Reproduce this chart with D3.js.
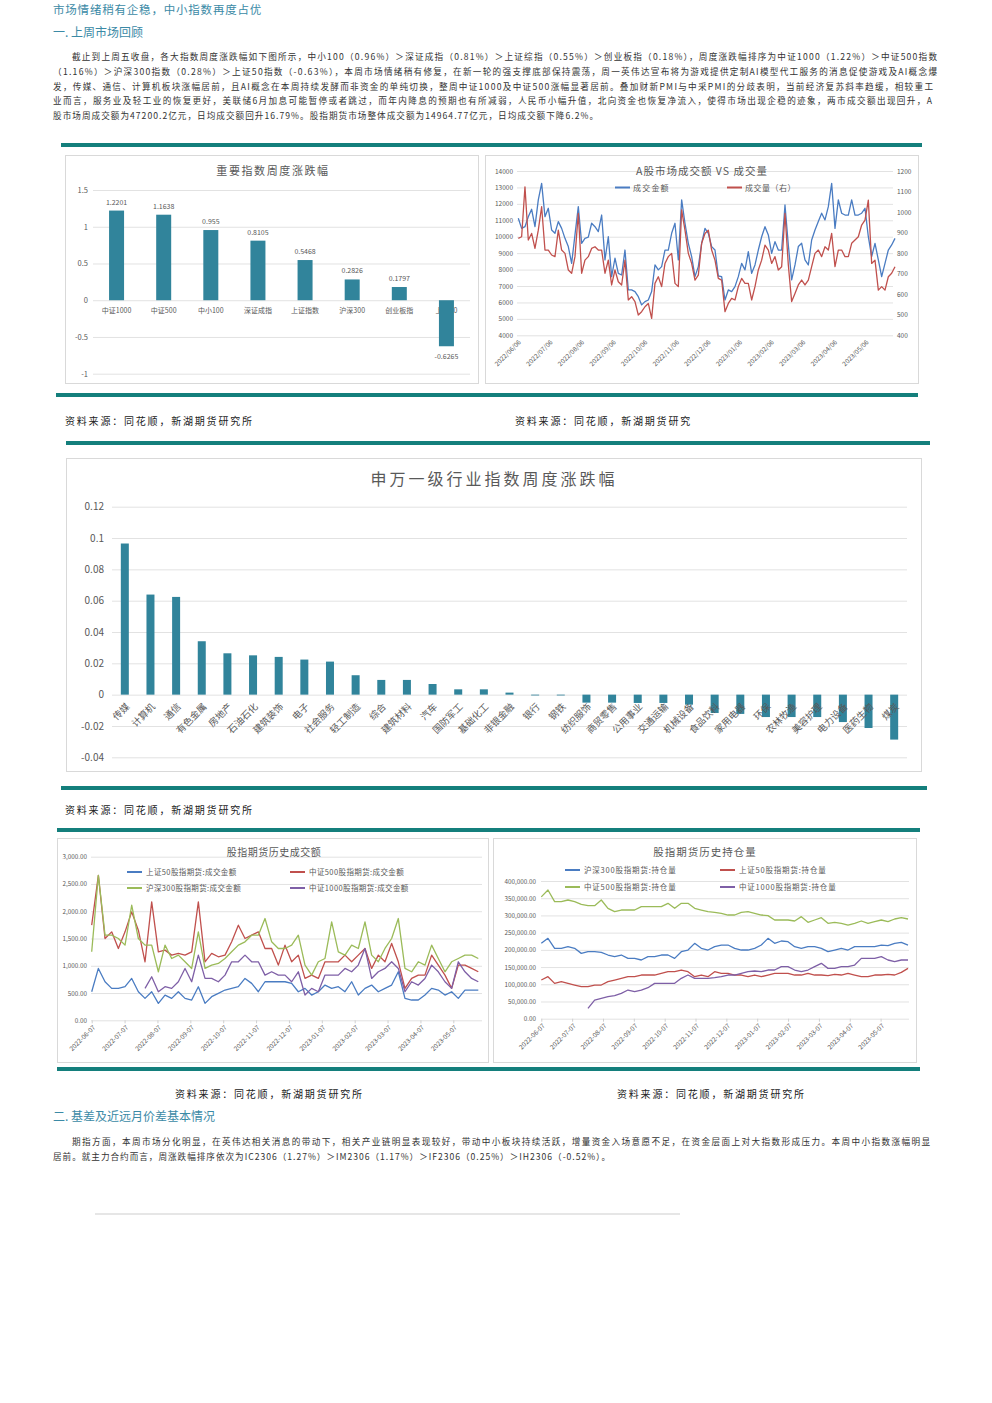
<!DOCTYPE html>
<html><head><meta charset="utf-8">
<script src="https://cdn.jsdelivr.net/npm/d3@7"></script>
<style>
body{margin:0;background:#fff}
svg{display:block}
text{font-family:"Noto Sans CJK SC","Noto Sans",sans-serif}
</style>
</head><body>
<svg id="c" width="992" height="1403"></svg>
<script>
// ---------------- DATA ----------------
const idxCats = ["中证1000","中证500","中小100","深证成指","上证指数","沪深300","创业板指","上证50"];
const idxVals = [1.2201,1.1638,0.955,0.8105,0.5468,0.2826,0.1797,-0.6265];
const idxTicks = [1.5,1,0.5,0,-0.5,-1];

const volDates = ["2022/06/06","2022/07/06","2022/08/06","2022/09/06","2022/10/06","2022/11/06","2022/12/06","2023/01/06","2023/02/06","2023/03/06","2023/04/06","2023/05/06"];
const amountTicks = [4000,5000,6000,7000,8000,9000,10000,11000,12000,13000,14000];
const volumeTicks = [400,500,600,700,800,900,1000,1100,1200];
const amountVals = [11120,10510,10610,11220,11670,10610,12240,13250,11220,11730,
10410,10210,10920,10510,9900,9400,8380,10110,11830,9600,
9900,9970,10820,10610,10310,11320,8590,10000,7570,8690,
7770,7670,9190,6760,6760,6660,6350,5850,6050,6150,
6660,8280,7980,8180,9190,9190,10210,10820,8590,12240,
10820,9600,8790,7570,8180,9600,10510,10210,9400,9190,
7610,7570,6150,6760,6660,6960,7570,8380,7980,9090,
7770,8280,9190,10000,10610,10110,8990,9700,9190,9190,
11930,9500,7370,8280,9400,9600,8590,8280,9800,10410,
10920,11430,11020,11830,13250,10510,12240,11430,11320,11320,
12240,11320,11320,11430,11730,10000,8790,9600,8590,7570,
8380,9190,9500,9900];
const volumeVals = [872,880,1123,864,896,823,912,1026,815,815,
791,783,912,815,799,718,702,783,994,702,
766,783,823,831,815,815,702,766,645,718,
661,645,766,572,588,564,499,515,539,555,
482,653,685,637,750,783,799,653,637,1010,
912,799,750,669,693,848,896,912,815,766,
677,669,515,555,580,572,637,677,653,653,
572,637,718,766,839,815,750,783,718,734,
994,742,564,604,645,669,645,669,734,799,
815,783,831,815,896,734,815,815,783,783,
848,864,880,937,961,1058,750,766,620,637,
620,685,702,734];

const swCats = ["传媒","计算机","通信","有色金属","房地产","石油石化","建筑装饰","电子","社会服务","轻工制造","综合","建筑材料","汽车","国防军工","基础化工","非银金融","银行","钢铁","纺织服饰","商贸零售","公用事业","交通运输","机械设备","食品饮料","家用电器","环保","农林牧渔","美容护理","电力设备","医药生物","煤炭"];
const swVals = [0.0965,0.0639,0.0624,0.0341,0.0264,0.0251,0.0241,0.0224,0.0211,0.0124,0.0094,0.0094,0.0068,0.0034,0.0034,0.0013,-0.0002,-0.0003,-0.0051,-0.0051,-0.0053,-0.0053,-0.0064,-0.0117,-0.0123,-0.0143,-0.0143,-0.0143,-0.0175,-0.0213,-0.0287];
const swTicks = [0.12,0.1,0.08,0.06,0.04,0.02,0,-0.02,-0.04];

const futDates = ["2022-06-07","2022-07-07","2022-08-07","2022-09-07","2022-10-07","2022-11-07","2022-12-07","2023-01-07","2023-02-07","2023-03-07","2023-04-07","2023-05-07"];
const futAmtTicks = [0,500,1000,1500,2000,2500,3000];
const sz50Amt = [524,951,707,585,585,616,768,524,402,524,
311,463,402,524,402,372,616,311,433,494,
555,585,616,768,677,524,707,707,707,707,
677,524,585,463,524,646,585,616,524,707,
463,585,646,524,585,646,890,402,372,372,
463,585,555,463,524,402,555,555,555];
const zz500Amt = [1744,2659,1500,1622,1317,1622,1988,1653,1073,2171,
1256,1287,1195,1226,1195,1256,2171,1073,1226,1165,
1195,1439,1744,1500,1561,1622,1317,1317,1012,1378,
1073,1195,768,829,768,1073,1073,1073,1195,1073,
1195,1317,951,1195,1073,1409,1073,585,768,829,
829,1195,1012,829,585,1012,1012,951,890];
const hs300Amt = [1256,2659,1561,1561,1500,1378,2110,1500,1378,1378,
890,1378,1134,1195,1073,951,1622,951,1012,1043,
1134,1256,1378,1439,1561,1561,1866,1439,1317,1317,
1378,1561,1012,829,1073,1134,1805,1256,1195,1378,
1317,1805,1195,1073,1317,1500,1866,951,890,1073,
1012,1378,1134,890,1073,1134,1195,1195,1134];
const zz1000Amt = [null,null,null,null,null,null,null,null,585,799,
524,616,585,707,951,707,1195,768,768,707,
829,1073,1073,1195,1073,1073,829,890,829,829,
707,890,463,585,524,829,829,829,951,890,
1012,1317,768,890,951,1073,951,524,707,646,
768,1012,890,707,585,1073,890,768,707];

const oiTicks = [0,50000,100000,150000,200000,250000,300000,350000,400000];
const hs300OI = [218900,233400,204400,204400,209200,204400,189800,194700,194700,192700,
185000,180100,185000,175300,175300,170500,180100,180100,185000,185000,
175300,194700,199500,218900,204400,199500,209200,214000,214000,204400,
199500,199500,204400,214000,233400,218900,225700,223700,209200,204400,
209200,209200,204400,194700,199500,204400,199500,209200,209200,209200,
209200,214000,212100,218900,221800,214000];
const sz50OI = [112300,122000,102700,107500,102700,97800,93000,93000,97800,97800,
107500,112300,117200,122000,122000,126900,126900,126900,131700,136600,
136600,141400,136600,122000,126900,122000,136600,131700,131700,126900,
126900,122000,126900,122000,126900,131700,131700,131700,126900,126900,
131700,126900,126900,124900,128800,126900,131700,126900,122000,122000,
126900,126900,128800,126900,134600,146200];
const zz500OI = [354000,373800,340000,340000,344800,340000,332200,328300,328300,344800,
320600,310900,315700,315700,315700,325400,325400,325400,325400,335100,
320600,335100,335100,320600,315700,310900,309000,306000,301200,301200,
309000,310900,306000,301200,299300,286700,286700,286700,283800,296400,
279900,286700,293500,277000,279900,277000,272100,277000,283800,277000,
281800,286700,281800,289600,293500,289600];
const zz1000OI = [null,null,null,null,null,null,null,30000,54200,59100,
63900,66800,73600,83300,78400,83300,90100,102700,102700,102700,
102700,117200,126900,117200,117200,117200,119100,122000,126900,126900,
131700,136600,138500,136600,141400,141400,151100,151100,141400,136600,
141400,151100,160800,146200,146200,151100,151100,155900,175300,175300,
175300,180100,170500,165600,170500,170500];

// ---------------- DRAWING ----------------
const svg = d3.select("#c");
const TXT = "#595959", GRID = "#e2e2e2", TEAL = "#147f7c", BAR = "#31849b", HEAD = "#3b8aa6";
const BLUE = "#4a7cc2", RED = "#c0504d", GREEN = "#9bbb59", PURPLE = "#7e5fa6";
svg.append("rect").attr("width",992).attr("height",1403).attr("fill","#fff");

function t(x,y,s,size,o={}){
  const e = svg.append("text").attr("x",x).attr("y",y).text(s)
    .attr("font-size",size).attr("fill",o.fill||TXT)
    .attr("text-anchor",o.anchor||"start");
  if(o.ls) e.style("letter-spacing",o.ls+"px");
  if(o.len) e.attr("textLength",o.len).attr("lengthAdjust","spacing");
  if(o.weight) e.attr("font-weight",o.weight);
  return e;
}
function sep(x,y,w){ svg.append("rect").attr("x",x).attr("y",y).attr("width",w).attr("height",4).attr("fill",TEAL); }
function box(x,y,w,h){ svg.append("rect").attr("x",x+0.5).attr("y",y+0.5).attr("width",w).attr("height",h).attr("fill","#fff").attr("stroke","#d9d9d9"); }
function styleAxis(g,size){
  g.select(".domain").remove();
  g.selectAll(".tick line").attr("stroke",GRID);
  g.selectAll(".tick text").attr("fill",TXT).attr("font-size",size).attr("font-family",'"Noto Sans CJK SC","Noto Sans",sans-serif');
}

// headings & paragraph
t(53,13.5,"市场情绪稍有企稳，中小指数再度占优",11.5,{fill:HEAD,ls:0.8});
t(53,36.5,"一. 上周市场回顾",12,{fill:HEAD});
const p1 = [
 ["截止到上周五收盘，各大指数周度涨跌幅如下图所示，中小100（0.96%）＞深证成指（0.81%）＞上证综指（0.55%）＞创业板指（0.18%），周度涨跌幅排序为中证1000（1.22%）＞中证500指数",72,865],
 ["（1.16%）＞沪深300指数（0.28%）＞上证50指数（-0.63%），本周市场情绪稍有修复，在新一轮的强支撑底部保持震荡，周一英伟达宣布将为游戏提供定制AI模型代工服务的消息促使游戏及AI概念爆",53,884],
 ["发，传媒、通信、计算机板块涨幅居前，且AI概念在本周持续发酵而非资金的单纯切换，整周中证1000及中证500涨幅显著居前。叠加财新PMI与中采PMI的分歧表明，当前经济复苏斜率趋缓，相较重工",53,880],
 ["业而言，服务业及轻工业的恢复更好，美联储6月加息可能暂停或者跳过，而年内降息的预期也有所减弱，人民币小幅升值，北向资金也恢复净流入，使得市场出现企稳的迹象，两市成交额出现回升，A",53,879],
 ["股市场周成交额为47200.2亿元，日均成交额回升16.79%。股指期货市场整体成交额为14964.77亿元，日均成交额下降6.2%。",53,545]
];
p1.forEach((l,i)=>t(l[1],60+i*14.8,l[0],8.6,{fill:"#333",len:l[2]}));

// separators
sep(61,143,861);
sep(56,393,862);
sep(66,441,864);
sep(61,786,866);
sep(57,828,863);
sep(57,1067,863);

// ---------- Chart 1: 重要指数周度涨跌幅 ----------
box(65,155,413,228);
t(273,175,"重要指数周度涨跌幅",11,{anchor:"middle",ls:1.6});
{
  const y = d3.scaleLinear().domain([-1,1.5]).range([373.7,190]);
  const x = d3.scaleBand().domain(idxCats).range([93,470]);
  const g = svg.append("g").attr("transform","translate(93,0)")
    .call(d3.axisLeft(y).tickValues(idxTicks).tickSize(-(470-93)).tickPadding(5)
      .tickFormat(d=>String(d)));
  styleAxis(g,7.5);
  idxCats.forEach(c=>t(x(c)+x.bandwidth()/2,313,c,7,{anchor:"middle"}));
  const bw = 15;
  svg.append("g").selectAll("rect").data(idxVals).join("rect")
    .attr("x",(d,i)=>x(idxCats[i])+x.bandwidth()/2-bw/2)
    .attr("y",d=>y(Math.max(d,0))).attr("width",bw)
    .attr("height",d=>Math.abs(y(d)-y(0))).attr("fill",BAR);
  idxVals.forEach((d,i)=>{
    const cx = x(idxCats[i])+x.bandwidth()/2;
    t(cx, d>=0 ? y(d)-6 : y(d)+13, String(d), 7, {anchor:"middle"});
  });
}

// ---------- Chart 2: A股市场成交额 VS 成交量 ----------
box(485,155,433,228);
{
  const x0 = 518.3, x1 = 895;
  const x = d3.scaleLinear().domain([0,amountVals.length-1]).range([x0,x1]);
  const yl = d3.scaleLinear().domain([4000,14000]).range([335.3,171]);
  const yr = d3.scaleLinear().domain([400,1200]).range([335.3,171]);
  const gl = svg.append("g").attr("transform","translate(517,0)")
    .call(d3.axisLeft(yl).tickValues(amountTicks).tickSize(-(893-517)).tickPadding(4).tickFormat(d=>String(d)));
  styleAxis(gl,6.5);
  const gr = svg.append("g").attr("transform","translate(893,0)")
    .call(d3.axisRight(yr).tickValues(volumeTicks).tickSize(0).tickPadding(4).tickFormat(d=>String(d)));
  styleAxis(gr,6.5);
  const xm = d3.scalePoint().domain(volDates).range([x0,866]);
  const gx = svg.append("g").attr("transform","translate(0,336)")
    .call(d3.axisBottom(xm).tickSize(0));
  styleAxis(gx,6.5);
  gx.selectAll(".tick text").attr("x",0).attr("y",0).attr("dy","0.35em")
    .attr("transform","translate(1,5) rotate(-45)").style("text-anchor","end");
  const line = ys => d3.line().x((d,i)=>x(i)).y(d=>ys(d));
  svg.append("path").datum(amountVals).attr("d",line(yl)).attr("fill","none").attr("stroke",BLUE).attr("stroke-width",1.3).attr("stroke-linejoin","round");
  svg.append("path").datum(volumeVals).attr("d",line(yr)).attr("fill","none").attr("stroke",RED).attr("stroke-width",1.3).attr("stroke-linejoin","round");
  t(702,175,"A股市场成交额 VS 成交量",10.5,{anchor:"middle",ls:1});
  svg.append("line").attr("x1",615).attr("x2",630).attr("y1",187.5).attr("y2",187.5).attr("stroke",BLUE).attr("stroke-width",2);
  t(633,190.5,"成交金额",8,{ls:1.2});
  svg.append("line").attr("x1",727).attr("x2",742).attr("y1",187.5).attr("y2",187.5).attr("stroke",RED).attr("stroke-width",2);
  t(745,190.5,"成交量（右）",8,{ls:0.5});
}

// sources row 1
t(65,425,"资料来源：同花顺，新湖期货研究所",10,{ls:1.8,fill:"#222"});
t(515,425,"资料来源：同花顺，新湖期货研究",10,{ls:1.8,fill:"#222"});

// ---------- Chart 3: 申万一级行业指数周度涨跌幅 ----------
box(66,458,855,313);
t(494,485,"申万一级行业指数周度涨跌幅",16,{anchor:"middle",ls:3});
{
  const y = d3.scaleLinear().domain([-0.04,0.12]).range([757.3,506.7]);
  const x = d3.scaleBand().domain(swCats).range([112,907]);
  const g = svg.append("g").attr("transform","translate(112,0)")
    .call(d3.axisLeft(y).tickValues(swTicks).tickSize(-(907-112)).tickPadding(8)
      .tickFormat(d=>String(Math.round(d*100)/100)));
  styleAxis(g,10);
  const bw = 8;
  svg.append("g").selectAll("rect").data(swVals).join("rect")
    .attr("x",(d,i)=>x(swCats[i])+x.bandwidth()/2-bw/2)
    .attr("y",d=>y(Math.max(d,0))).attr("width",bw)
    .attr("height",d=>Math.max(0.8,Math.abs(y(d)-y(0)))).attr("fill",BAR);
  swCats.forEach(c=>{
    const cx = x(c)+x.bandwidth()/2;
    svg.append("text").text(c).attr("font-size",9.5).attr("fill",TXT)
      .attr("text-anchor","end").attr("dy","0.35em")
      .attr("transform",`translate(${cx+3},705) rotate(-45)`);
  });
}
t(65,814,"资料来源：同花顺，新湖期货研究所",10,{ls:1.8,fill:"#222"});

// ---------- Chart 4: 股指期货历史成交额 ----------
box(57,838,431,224);
{
  const x0 = 91.7, x1 = 478.3;
  const x = d3.scaleLinear().domain([0,sz50Amt.length-1]).range([x0,x1]);
  const y = d3.scaleLinear().domain([0,3000]).range([1020.3,856.7]);
  const g = svg.append("g").attr("transform","translate(91,0)")
    .call(d3.axisLeft(y).tickValues(futAmtTicks).tickSize(-(482-91)).tickPadding(4).tickFormat(d3.format(",.2f")));
  styleAxis(g,6.3);
  const xm = d3.scalePoint().domain(futDates).range([x0,453.3]);
  const gx = svg.append("g").attr("transform","translate(0,1020.3)")
    .call(d3.axisBottom(xm).tickSize(3));
  styleAxis(gx,6.5);
  gx.selectAll(".tick line").attr("stroke","#d0d0d0");
  gx.selectAll(".tick text").attr("x",0).attr("y",0).attr("dy","0.35em")
    .attr("transform","translate(2,6) rotate(-45)").style("text-anchor","end");
  const line = d3.line().defined(d=>d!=null).x((d,i)=>x(i)).y(d=>y(d));
  [[sz50Amt,BLUE],[zz500Amt,RED],[hs300Amt,GREEN],[zz1000Amt,PURPLE]].forEach(([v,c])=>
    svg.append("path").datum(v).attr("d",line).attr("fill","none").attr("stroke",c).attr("stroke-width",1.3).attr("stroke-linejoin","round"));
  t(274,856,"股指期货历史成交额",10,{anchor:"middle",ls:0.5});
  const lg = [["上证50股指期货:成交金额",BLUE,127,872],["中证500股指期货:成交金额",RED,290,872],["沪深300股指期货:成交金额",GREEN,127,888],["中证1000股指期货:成交金额",PURPLE,290,888]];
  lg.forEach(([s,c,lx,ly])=>{
    svg.append("line").attr("x1",lx).attr("x2",lx+15).attr("y1",ly).attr("y2",ly).attr("stroke",c).attr("stroke-width",2);
    t(lx+19,ly+3,s,7.5,{ls:0.4});
  });
}

// ---------- Chart 5: 股指期货历史持仓量 ----------
box(493,838,423,224);
{
  const x0 = 541.3, x1 = 908;
  const x = d3.scaleLinear().domain([0,hs300OI.length-1]).range([x0,x1]);
  const y = d3.scaleLinear().domain([0,400000]).range([1018.7,881]);
  const g = svg.append("g").attr("transform","translate(541,0)")
    .call(d3.axisLeft(y).tickValues(oiTicks).tickSize(-(909-541)).tickPadding(5).tickFormat(d3.format(",.2f")));
  styleAxis(g,6.3);
  const xm = d3.scalePoint().domain(futDates).range([x0,880.6]);
  const gx = svg.append("g").attr("transform","translate(0,1018.7)")
    .call(d3.axisBottom(xm).tickSize(3));
  styleAxis(gx,6.5);
  gx.selectAll(".tick line").attr("stroke","#d0d0d0");
  gx.selectAll(".tick text").attr("x",0).attr("y",0).attr("dy","0.35em")
    .attr("transform","translate(2,6) rotate(-45)").style("text-anchor","end");
  const line = d3.line().defined(d=>d!=null).x((d,i)=>x(i)).y(d=>y(d));
  [[hs300OI,BLUE],[sz50OI,RED],[zz500OI,GREEN],[zz1000OI,PURPLE]].forEach(([v,c])=>
    svg.append("path").datum(v).attr("d",line).attr("fill","none").attr("stroke",c).attr("stroke-width",1.3).attr("stroke-linejoin","round"));
  t(705,856,"股指期货历史持仓量",10.5,{anchor:"middle",ls:1});
  const lg = [["沪深300股指期货:持仓量",BLUE,565,870],["上证50股指期货:持仓量",RED,720,870],["中证500股指期货:持仓量",GREEN,565,887],["中证1000股指期货:持仓量",PURPLE,720,887]];
  lg.forEach(([s,c,lx,ly])=>{
    svg.append("line").attr("x1",lx).attr("x2",lx+15).attr("y1",ly).attr("y2",ly).attr("stroke",c).attr("stroke-width",2);
    t(lx+19,ly+3,s,7.5,{ls:0.8});
  });
}

// sources row 2
t(175,1098,"资料来源：同花顺，新湖期货研究所",10,{ls:1.8,fill:"#222"});
t(617,1098,"资料来源：同花顺，新湖期货研究所",10,{ls:1.8,fill:"#222"});

// section 2
t(53,1121,"二. 基差及近远月价差基本情况",12,{fill:HEAD});
t(72,1145,"期指方面，本周市场分化明显，在英伟达相关消息的带动下，相关产业链明显表现较好，带动中小板块持续活跃，增量资金入场意愿不足，在资金层面上对大指数形成压力。本周中小指数涨幅明显",8.6,{fill:"#333",len:858});
t(53,1160,"居前。就主力合约而言，周涨跌幅排序依次为IC2306（1.27%）＞IM2306（1.17%）＞IF2306（0.25%）＞IH2306（-0.52%）。",8.6,{fill:"#333",len:557});

svg.append("rect").attr("x",95).attr("y",1213).attr("width",585).attr("height",2).attr("fill","#e6e6e6");
</script>
</body></html>
